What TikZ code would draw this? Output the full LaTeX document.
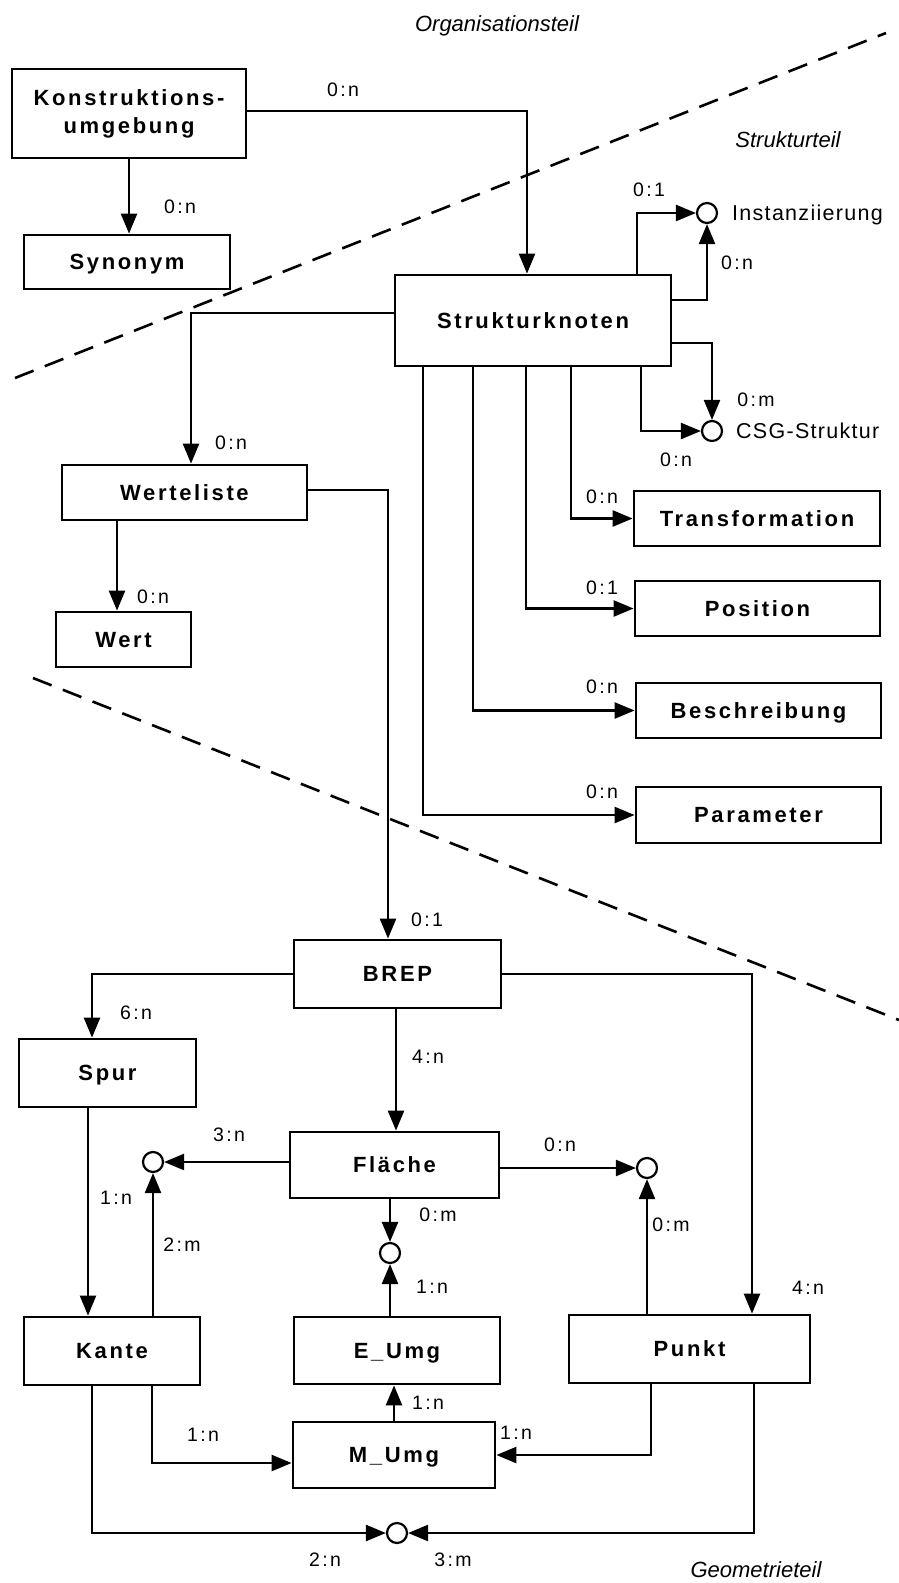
\documentclass[tikz,border=0pt]{standalone}
\usepackage{fontspec}
\setmainfont{Liberation Sans}
\newfontfamily\entityfont[LetterSpace=12]{Liberation Sans}
\newfontfamily\cardfont[LetterSpace=12]{Liberation Sans}
\newfontfamily\notefont[LetterSpace=6]{Liberation Sans}
\newfontfamily\partfont{Liberation Sans}
\usetikzlibrary{arrows.meta}

\begin{document}
\begin{tikzpicture}[x=1pt,y=-1pt,
  entity/.style={draw, line width=2.8pt, inner sep=0pt,
    font=\entityfont\bfseries\fontsize{22}{28}\selectfont},
  oneline/.style={text height=15.8pt, text depth=0pt},
  card/.style={inner sep=0pt, font=\cardfont\fontsize{19.5}{22}\selectfont},
  note/.style={inner sep=0pt, anchor=base west, font=\notefont\fontsize{21.5}{24}\selectfont},
  part/.style={inner sep=0pt, anchor=base, font=\partfont\itshape\fontsize{22}{24}\selectfont},
  joint/.style={draw, circle, line width=2.2pt, minimum size=20pt, inner sep=0pt},
  conn/.style={line width=2.4pt, -{Triangle[length=20pt,width=16pt]}},
  divider/.style={line width=2.6pt, dash pattern=on 20pt off 12pt},
]
\fill[white] (0,0) rectangle (899,1583);
\useasboundingbox (0,0) rectangle (899,1583);

% region dividers
\coordinate (d1a) at (15,378);  \coordinate (d1b) at (886,33);
\coordinate (d2a) at (33,678);  \coordinate (d2b) at (899,1020);
\draw[divider] (d1a) -- (d1b);
\draw[divider] (d2a) -- (d2b);

% region titles
\node[part] (tOrg) at (497,31) {Organisationsteil};
\node[part] (tStr) at (788,147) {Strukturteil};
\node[part] (tGeo) at (756,1577) {Geometrieteil};

% entities
\node[entity, align=center, minimum width=234pt, minimum height=89pt] (K) at (129,113.5) {Konstruktions-\\umgebung};
\node[entity, oneline, minimum width=206pt, minimum height=54pt] (Syn) at (127,262) {Synonym};
\node[entity, oneline, minimum width=276pt, minimum height=91pt] (S) at (533,320.5) {Strukturknoten};
\node[entity, oneline, minimum width=245pt, minimum height=55pt] (WL) at (184.5,492.5) {Werteliste};
\node[entity, oneline, minimum width=135pt, minimum height=55pt] (Wert) at (123.5,639.5) {Wert};
\node[entity, oneline, minimum width=246pt, minimum height=55pt] (Tr) at (757,518.5) {Transformation};
\node[entity, oneline, minimum width=245pt, minimum height=55pt] (Pos) at (757.5,608.5) {Position};
\node[entity, oneline, minimum width=245pt, minimum height=55pt] (Bes) at (758.5,710.5) {Beschreibung};
\node[entity, oneline, minimum width=245pt, minimum height=56pt] (Par) at (758.5,815) {Parameter};
\node[entity, oneline, minimum width=207pt, minimum height=68pt] (BREP) at (397.5,974) {BREP};
\node[entity, oneline, minimum width=177pt, minimum height=68pt] (Spur) at (107.5,1073) {Spur};
\node[entity, oneline, minimum width=209pt, minimum height=66pt] (Fl) at (394.5,1165) {Fläche};
\node[entity, oneline, minimum width=176pt, minimum height=68pt] (Kante) at (112,1351) {Kante};
\node[entity, oneline, minimum width=206pt, minimum height=67pt] (EU) at (397,1350.5) {E\_Umg};
\node[entity, oneline, minimum width=202pt, minimum height=66pt] (MU) at (394,1455) {M\_Umg};
\node[entity, oneline, minimum width=241pt, minimum height=68pt] (Punkt) at (689.5,1349) {Punkt};

% relation joints
\node[joint] (Inst) at (707,213) {};
\node[joint] (CSG) at (712,431) {};
\node[joint] (CL) at (153,1162) {};
\node[joint] (CR) at (647,1168) {};
\node[joint] (CM) at (390,1253) {};
\node[joint] (CB) at (397,1533) {};
\node[note] (nInst) at (732,220.5) {Instanziierung};
\node[note] (nCSG) at (736,438.5) {CSG-Struktur};

% routing positions
\coordinate (xKS) at (527,0);  \coordinate (yKS) at (0,111);
\coordinate (xI1) at (637,0);  \coordinate (yI2) at (0,300);
\coordinate (yC1) at (0,343);  \coordinate (xC2) at (641,0);
\coordinate (xTr) at (571,0);  \coordinate (xPo) at (526,0);
\coordinate (xBe) at (473,0);  \coordinate (xPa) at (423,0);
\coordinate (yWL) at (0,313);  \coordinate (xWL) at (191,0);
\coordinate (xWe) at (117,0);
\coordinate (yWB) at (0,490);  \coordinate (xWB) at (388,0);
\coordinate (xSp) at (92,0);   \coordinate (xFl) at (396,0);
\coordinate (xPu) at (752,0);  \coordinate (xSK) at (88,0);
\coordinate (xEM) at (394,0);  \coordinate (xKM) at (152,0);
\coordinate (yKM) at (0,1463); \coordinate (xPM) at (651,0);
\coordinate (xKB) at (92,0);   \coordinate (xPB) at (754,0);

% organisation part
\draw[conn] (K.south) -- (K.south |- Syn.north);
\draw[conn] (K.east |- yKS) -| (S.north -| xKS);

% structure part
\draw[conn] (S.north -| xI1) |- (Inst.west);
\draw[conn] (S.east |- yI2) -| (Inst.south);
\draw[conn] (S.east |- yC1) -| (CSG.north);
\draw[conn] (S.south -| xC2) |- (CSG.west);
\draw[conn] (S.south -| xTr) |- (Tr.west);
\draw[conn] (S.south -| xPo) |- (Pos.west);
\draw[conn] (S.south -| xBe) |- (Bes.west);
\draw[conn] (S.south -| xPa) |- (Par.west);
\draw[conn] (S.west |- yWL) -| (WL.north -| xWL);
\draw[conn] (WL.south -| xWe) -- (Wert.north -| xWe);
\draw[conn] (WL.east |- yWB) -| (BREP.north -| xWB);

% geometry part
\draw[conn] (BREP.west) -| (Spur.north -| xSp);
\draw[conn] (BREP.south -| xFl) -- (Fl.north -| xFl);
\draw[conn] (BREP.east) -| (Punkt.north -| xPu);
\draw[conn] (Fl.west |- CL) -- (CL.east);
\draw[conn] (Fl.east |- CR) -- (CR.west);
\draw[conn] (Fl.south -| CM) -- (CM.north);
\draw[conn] (Spur.south -| xSK) -- (Kante.north -| xSK);
\draw[conn] (Kante.north -| CL) -- (CL.south);
\draw[conn] (EU.north -| CM) -- (CM.south);
\draw[conn] (Punkt.north -| CR) -- (CR.south);
\draw[conn] (MU.north -| xEM) -- (EU.south -| xEM);
\draw[conn] (Kante.south -| xKM) |- (MU.west |- yKM);
\draw[conn] (Punkt.south -| xPM) |- (MU.east);
\draw[conn] (Kante.south -| xKB) |- (CB.west);
\draw[conn] (Punkt.south -| xPB) |- (CB.east);

% cardinalities
\node[card] (c01) at (180,207) {0:n};
\node[card] (c02) at (343,90) {0:n};
\node[card] (c03) at (649,190) {0:1};
\node[card] (c04) at (737,263) {0:n};
\node[card] (c05) at (756,400) {0:m};
\node[card] (c06) at (676,460) {0:n};
\node[card] (c07) at (602,497) {0:n};
\node[card] (c08) at (602,588) {0:1};
\node[card] (c09) at (602,687) {0:n};
\node[card] (c10) at (602,792) {0:n};
\node[card] (c11) at (231,443) {0:n};
\node[card] (c12) at (153,597) {0:n};
\node[card] (c13) at (427,920) {0:1};
\node[card] (c14) at (136,1013) {6:n};
\node[card] (c15) at (428,1057) {4:n};
\node[card] (c16) at (808,1288) {4:n};
\node[card] (c17) at (229,1135) {3:n};
\node[card] (c18) at (560,1145) {0:n};
\node[card] (c19) at (438,1215) {0:m};
\node[card] (c20) at (432,1287) {1:n};
\node[card] (c21) at (116,1198) {1:n};
\node[card] (c22) at (182,1245) {2:m};
\node[card] (c23) at (671,1225) {0:m};
\node[card] (c24) at (428,1403) {1:n};
\node[card] (c25) at (203,1435) {1:n};
\node[card] (c26) at (516,1433) {1:n};
\node[card] (c27) at (325,1560) {2:n};
\node[card] (c28) at (453,1560) {3:m};
\end{tikzpicture}
\end{document}
